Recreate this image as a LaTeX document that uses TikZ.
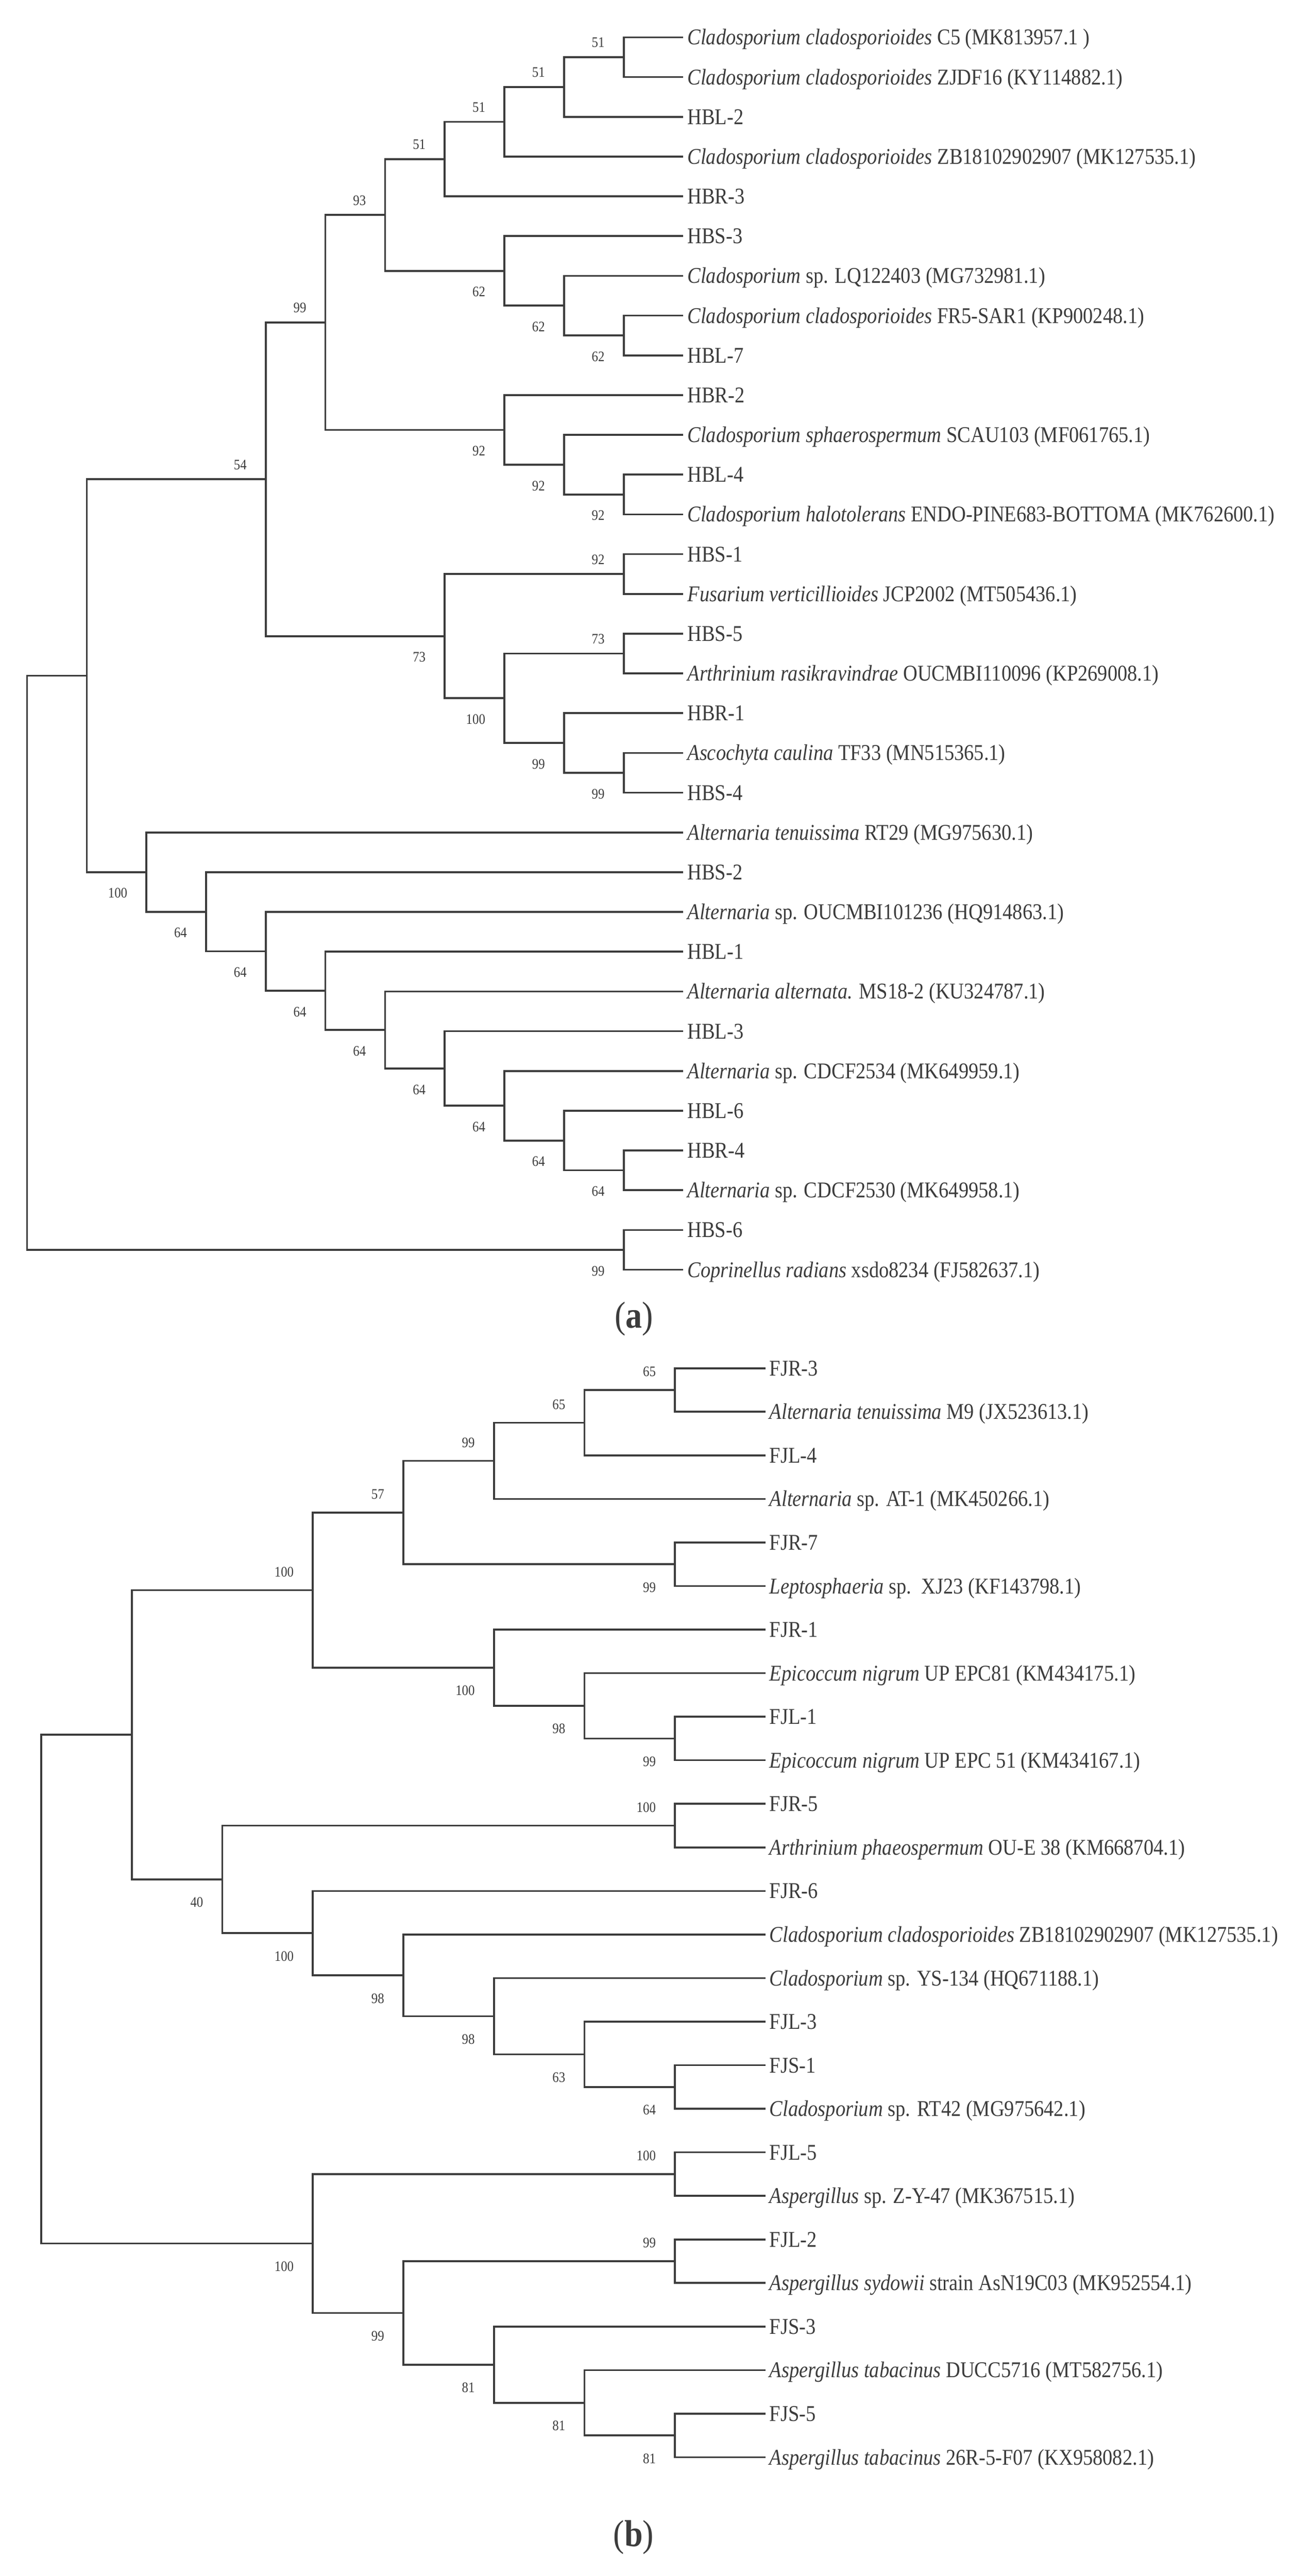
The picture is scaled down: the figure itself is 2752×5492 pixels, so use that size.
\documentclass[tikz,border=0pt]{standalone}
\usepackage{fontspec}
\setmainfont{Liberation Serif}[FakeStretch=0.88]
\definecolor{treegray}{HTML}{3C3C3C}

\begin{document}
\begin{tikzpicture}[x=0.25pt, y=-0.25pt,
    branch/.style={draw=treegray, line width=1pt},
    leaf/.style={anchor=west, inner xsep=2pt, inner ysep=0pt, text height=8pt, text depth=0pt, text=treegray, font=\fontsize{12}{14}\selectfont},
    bs/.style={anchor=east, inner sep=0pt, xshift=-10pt, text=treegray, font=\fontsize{7.75}{9}\selectfont},
    caption/.style={text=treegray, font=\fontsize{20}{24}\selectfont}]
    \useasboundingbox (0,0) rectangle (2752,5492);

    % Tree (a)
    \begin{scope}[x=-31.8pt, y=-21.19pt, shift={(364.25pt,1.315pt)},
        bsup/.style={bs, yshift=7.75pt}, bsdn/.style={bs, yshift=-11.25pt}]
    % Leaves
    \node[leaf] (a-1) at (0,1) {\textit{Cladosporium cladosporioides} C5 (MK813957.1 )};
    \node[leaf] (a-2) at (0,2) {\textit{Cladosporium cladosporioides} ZJDF16 (KY114882.1)};
    \node[leaf] (a-3) at (0,3) {HBL-2};
    \node[leaf] (a-4) at (0,4) {\textit{Cladosporium cladosporioides} ZB18102902907 (MK127535.1)};
    \node[leaf] (a-5) at (0,5) {HBR-3};
    \node[leaf] (a-6) at (0,6) {HBS-3};
    \node[leaf] (a-7) at (0,7) {\textit{Cladosporium} sp. LQ122403 (MG732981.1)};
    \node[leaf] (a-8) at (0,8) {\textit{Cladosporium cladosporioides} FR5-SAR1 (KP900248.1)};
    \node[leaf] (a-9) at (0,9) {HBL-7};
    \node[leaf] (a-10) at (0,10) {HBR-2};
    \node[leaf] (a-11) at (0,11) {\textit{Cladosporium sphaerospermum} SCAU103 (MF061765.1)};
    \node[leaf] (a-12) at (0,12) {HBL-4};
    \node[leaf] (a-13) at (0,13) {\textit{Cladosporium halotolerans} ENDO-PINE683-BOTTOMA (MK762600.1)};
    \node[leaf] (a-14) at (0,14) {HBS-1};
    \node[leaf] (a-15) at (0,15) {\textit{Fusarium verticillioides} JCP2002 (MT505436.1)};
    \node[leaf] (a-16) at (0,16) {HBS-5};
    \node[leaf] (a-17) at (0,17) {\textit{Arthrinium rasikravindrae} OUCMBI110096 (KP269008.1)};
    \node[leaf] (a-18) at (0,18) {HBR-1};
    \node[leaf] (a-19) at (0,19) {\textit{Ascochyta caulina} TF33 (MN515365.1)};
    \node[leaf] (a-20) at (0,20) {HBS-4};
    \node[leaf] (a-21) at (0,21) {\textit{Alternaria tenuissima} RT29 (MG975630.1)};
    \node[leaf] (a-22) at (0,22) {HBS-2};
    \node[leaf] (a-23) at (0,23) {\textit{Alternaria} sp. OUCMBI101236 (HQ914863.1)};
    \node[leaf] (a-24) at (0,24) {HBL-1};
    \node[leaf] (a-25) at (0,25) {\textit{Alternaria alternata.} MS18-2 (KU324787.1)};
    \node[leaf] (a-26) at (0,26) {HBL-3};
    \node[leaf] (a-27) at (0,27) {\textit{Alternaria} sp. CDCF2534 (MK649959.1)};
    \node[leaf] (a-28) at (0,28) {HBL-6};
    \node[leaf] (a-29) at (0,29) {HBR-4};
    \node[leaf] (a-30) at (0,30) {\textit{Alternaria} sp. CDCF2530 (MK649958.1)};
    \node[leaf] (a-31) at (0,31) {HBS-6};
    \node[leaf] (a-32) at (0,32) {\textit{Coprinellus radians} xsdo8234 (FJ582637.1)};

    % Inner nodes
    \coordinate (a-n1) at (1,1.5);
    \coordinate (a-n2) at (2,2.25);
    \coordinate (a-n3) at (3,3.125);
    \coordinate (a-n4) at (4,4.0625);
    \coordinate (a-n5) at (1,8.5);
    \coordinate (a-n6) at (2,7.75);
    \coordinate (a-n7) at (3,6.875);
    \coordinate (a-n8) at (5,5.46875);
    \coordinate (a-n9) at (1,12.5);
    \coordinate (a-n10) at (2,11.75);
    \coordinate (a-n11) at (3,10.875);
    \coordinate (a-n12) at (6,8.171875);
    \coordinate (a-n13) at (1,14.5);
    \coordinate (a-n14) at (1,16.5);
    \coordinate (a-n15) at (1,19.5);
    \coordinate (a-n16) at (2,18.75);
    \coordinate (a-n17) at (3,17.625);
    \coordinate (a-n18) at (4,16.0625);
    \coordinate (a-n19) at (7,12.1171875);
    \coordinate (a-n20) at (1,29.5);
    \coordinate (a-n21) at (2,28.75);
    \coordinate (a-n22) at (3,27.875);
    \coordinate (a-n23) at (4,26.9375);
    \coordinate (a-n24) at (5,25.96875);
    \coordinate (a-n25) at (6,24.984375);
    \coordinate (a-n26) at (7,23.9921875);
    \coordinate (a-n27) at (8,22.99609375);
    \coordinate (a-n28) at (9,21.998046875);
    \coordinate (a-n29) at (10,17.0576171875);
    \coordinate (a-n30) at (1,31.5);
    \coordinate (a-root) at (11,24.27880859375);

    % Branches
    \draw[branch] (a-1.west) -| (a-n1) |- (a-2.west);
    \draw[branch] (a-n1) -| (a-n2) |- (a-3.west);
    \draw[branch] (a-n2) -| (a-n3) |- (a-4.west);
    \draw[branch] (a-n3) -| (a-n4) |- (a-5.west);
    \draw[branch] (a-8.west) -| (a-n5) |- (a-9.west);
    \draw[branch] (a-7.west) -| (a-n6) |- (a-n5);
    \draw[branch] (a-6.west) -| (a-n7) |- (a-n6);
    \draw[branch] (a-n4) -| (a-n8) |- (a-n7);
    \draw[branch] (a-12.west) -| (a-n9) |- (a-13.west);
    \draw[branch] (a-11.west) -| (a-n10) |- (a-n9);
    \draw[branch] (a-10.west) -| (a-n11) |- (a-n10);
    \draw[branch] (a-n8) -| (a-n12) |- (a-n11);
    \draw[branch] (a-14.west) -| (a-n13) |- (a-15.west);
    \draw[branch] (a-16.west) -| (a-n14) |- (a-17.west);
    \draw[branch] (a-19.west) -| (a-n15) |- (a-20.west);
    \draw[branch] (a-18.west) -| (a-n16) |- (a-n15);
    \draw[branch] (a-n14) -| (a-n17) |- (a-n16);
    \draw[branch] (a-n13) -| (a-n18) |- (a-n17);
    \draw[branch] (a-n12) -| (a-n19) |- (a-n18);
    \draw[branch] (a-29.west) -| (a-n20) |- (a-30.west);
    \draw[branch] (a-28.west) -| (a-n21) |- (a-n20);
    \draw[branch] (a-27.west) -| (a-n22) |- (a-n21);
    \draw[branch] (a-26.west) -| (a-n23) |- (a-n22);
    \draw[branch] (a-25.west) -| (a-n24) |- (a-n23);
    \draw[branch] (a-24.west) -| (a-n25) |- (a-n24);
    \draw[branch] (a-23.west) -| (a-n26) |- (a-n25);
    \draw[branch] (a-22.west) -| (a-n27) |- (a-n26);
    \draw[branch] (a-21.west) -| (a-n28) |- (a-n27);
    \draw[branch] (a-n19) -| (a-n29) |- (a-n28);
    \draw[branch] (a-31.west) -| (a-n30) |- (a-32.west);
    \draw[branch] (a-n29) -| (a-root) |- (a-n30);

    % Bootstrap values
    \node[bsup] (a-bs1) at (a-n1) {51};
    \node[bsup] (a-bs2) at (a-n2) {51};
    \node[bsup] (a-bs3) at (a-n3) {51};
    \node[bsup] (a-bs4) at (a-n4) {51};
    \node[bsdn] (a-bs5) at (a-n5) {62};
    \node[bsdn] (a-bs6) at (a-n6) {62};
    \node[bsdn] (a-bs7) at (a-n7) {62};
    \node[bsup] (a-bs8) at (a-n8) {93};
    \node[bsdn] (a-bs9) at (a-n9) {92};
    \node[bsdn] (a-bs10) at (a-n10) {92};
    \node[bsdn] (a-bs11) at (a-n11) {92};
    \node[bsup] (a-bs12) at (a-n12) {99};
    \node[bsup] (a-bs13) at (a-n13) {92};
    \node[bsup] (a-bs14) at (a-n14) {73};
    \node[bsdn] (a-bs15) at (a-n15) {99};
    \node[bsdn] (a-bs16) at (a-n16) {99};
    \node[bsdn] (a-bs17) at (a-n17) {100};
    \node[bsdn] (a-bs18) at (a-n18) {73};
    \node[bsup] (a-bs19) at (a-n19) {54};
    \node[bsdn] (a-bs20) at (a-n20) {64};
    \node[bsdn] (a-bs21) at (a-n21) {64};
    \node[bsdn] (a-bs22) at (a-n22) {64};
    \node[bsdn] (a-bs23) at (a-n23) {64};
    \node[bsdn] (a-bs24) at (a-n24) {64};
    \node[bsdn] (a-bs25) at (a-n25) {64};
    \node[bsdn] (a-bs26) at (a-n26) {64};
    \node[bsdn] (a-bs27) at (a-n27) {64};
    \node[bsdn] (a-bs28) at (a-n28) {100};
    \node[bsdn] (a-bs30) at (a-n30) {99};
    \end{scope}

    \node[caption] (cap-a) at (1352,2812) {(\textbf{a})};

    % Tree (b)
    \begin{scope}[x=-48.25pt, y=-23.2175pt, shift={(408pt,-706.0325pt)},
        bsup/.style={bs, yshift=9.75pt}, bsdn/.style={bs, yshift=-12.25pt}]
    % Leaves
    \node[leaf] (b-1) at (0,1) {FJR-3};
    \node[leaf] (b-2) at (0,2) {\textit{Alternaria tenuissima} M9 (JX523613.1)};
    \node[leaf] (b-3) at (0,3) {FJL-4};
    \node[leaf] (b-4) at (0,4) {\textit{Alternaria} sp. AT-1 (MK450266.1)};
    \node[leaf] (b-5) at (0,5) {FJR-7};
    \node[leaf] (b-6) at (0,6) {\textit{Leptosphaeria} sp.\ \ XJ23 (KF143798.1)};
    \node[leaf] (b-7) at (0,7) {FJR-1};
    \node[leaf] (b-8) at (0,8) {\textit{Epicoccum nigrum} UP EPC81 (KM434175.1)};
    \node[leaf] (b-9) at (0,9) {FJL-1};
    \node[leaf] (b-10) at (0,10) {\textit{Epicoccum nigrum} UP EPC 51 (KM434167.1)};
    \node[leaf] (b-11) at (0,11) {FJR-5};
    \node[leaf] (b-12) at (0,12) {\textit{Arthrinium phaeospermum} OU-E 38 (KM668704.1)};
    \node[leaf] (b-13) at (0,13) {FJR-6};
    \node[leaf] (b-14) at (0,14) {\textit{Cladosporium cladosporioides} ZB18102902907 (MK127535.1)};
    \node[leaf] (b-15) at (0,15) {\textit{Cladosporium} sp. YS-134 (HQ671188.1)};
    \node[leaf] (b-16) at (0,16) {FJL-3};
    \node[leaf] (b-17) at (0,17) {FJS-1};
    \node[leaf] (b-18) at (0,18) {\textit{Cladosporium} sp. RT42 (MG975642.1)};
    \node[leaf] (b-19) at (0,19) {FJL-5};
    \node[leaf] (b-20) at (0,20) {\textit{Aspergillus} sp. Z-Y-47 (MK367515.1)};
    \node[leaf] (b-21) at (0,21) {FJL-2};
    \node[leaf] (b-22) at (0,22) {\textit{Aspergillus sydowii} strain AsN19C03 (MK952554.1)};
    \node[leaf] (b-23) at (0,23) {FJS-3};
    \node[leaf] (b-24) at (0,24) {\textit{Aspergillus tabacinus} DUCC5716 (MT582756.1)};
    \node[leaf] (b-25) at (0,25) {FJS-5};
    \node[leaf] (b-26) at (0,26) {\textit{Aspergillus tabacinus} 26R-5-F07 (KX958082.1)};

    % Inner nodes
    \coordinate (b-n1) at (1,1.5);
    \coordinate (b-n2) at (2,2.25);
    \coordinate (b-n3) at (3,3.125);
    \coordinate (b-n4) at (1,5.5);
    \coordinate (b-n5) at (4,4.3125);
    \coordinate (b-n6) at (1,9.5);
    \coordinate (b-n7) at (2,8.75);
    \coordinate (b-n8) at (3,7.875);
    \coordinate (b-n9) at (5,6.09375);
    \coordinate (b-n10) at (1,11.5);
    \coordinate (b-n11) at (1,17.5);
    \coordinate (b-n12) at (2,16.75);
    \coordinate (b-n13) at (3,15.875);
    \coordinate (b-n14) at (4,14.9375);
    \coordinate (b-n15) at (5,13.96875);
    \coordinate (b-n16) at (6,12.734375);
    \coordinate (b-n17) at (7,9.4140625);
    \coordinate (b-n18) at (1,19.5);
    \coordinate (b-n19) at (1,21.5);
    \coordinate (b-n20) at (1,25.5);
    \coordinate (b-n21) at (2,24.75);
    \coordinate (b-n22) at (3,23.875);
    \coordinate (b-n23) at (4,22.6875);
    \coordinate (b-n24) at (5,21.09375);
    \coordinate (b-root) at (8,15.25390625);

    % Branches
    \draw[branch] (b-1.west) -| (b-n1) |- (b-2.west);
    \draw[branch] (b-n1) -| (b-n2) |- (b-3.west);
    \draw[branch] (b-n2) -| (b-n3) |- (b-4.west);
    \draw[branch] (b-5.west) -| (b-n4) |- (b-6.west);
    \draw[branch] (b-n3) -| (b-n5) |- (b-n4);
    \draw[branch] (b-9.west) -| (b-n6) |- (b-10.west);
    \draw[branch] (b-8.west) -| (b-n7) |- (b-n6);
    \draw[branch] (b-7.west) -| (b-n8) |- (b-n7);
    \draw[branch] (b-n5) -| (b-n9) |- (b-n8);
    \draw[branch] (b-11.west) -| (b-n10) |- (b-12.west);
    \draw[branch] (b-17.west) -| (b-n11) |- (b-18.west);
    \draw[branch] (b-16.west) -| (b-n12) |- (b-n11);
    \draw[branch] (b-15.west) -| (b-n13) |- (b-n12);
    \draw[branch] (b-14.west) -| (b-n14) |- (b-n13);
    \draw[branch] (b-13.west) -| (b-n15) |- (b-n14);
    \draw[branch] (b-n10) -| (b-n16) |- (b-n15);
    \draw[branch] (b-n9) -| (b-n17) |- (b-n16);
    \draw[branch] (b-19.west) -| (b-n18) |- (b-20.west);
    \draw[branch] (b-21.west) -| (b-n19) |- (b-22.west);
    \draw[branch] (b-25.west) -| (b-n20) |- (b-26.west);
    \draw[branch] (b-24.west) -| (b-n21) |- (b-n20);
    \draw[branch] (b-23.west) -| (b-n22) |- (b-n21);
    \draw[branch] (b-n19) -| (b-n23) |- (b-n22);
    \draw[branch] (b-n18) -| (b-n24) |- (b-n23);
    \draw[branch] (b-n17) -| (b-root) |- (b-n24);

    % Bootstrap values
    \node[bsup] (b-bs1) at (b-n1) {65};
    \node[bsup] (b-bs2) at (b-n2) {65};
    \node[bsup] (b-bs3) at (b-n3) {99};
    \node[bsdn] (b-bs4) at (b-n4) {99};
    \node[bsup] (b-bs5) at (b-n5) {57};
    \node[bsdn] (b-bs6) at (b-n6) {99};
    \node[bsdn] (b-bs7) at (b-n7) {98};
    \node[bsdn] (b-bs8) at (b-n8) {100};
    \node[bsup] (b-bs9) at (b-n9) {100};
    \node[bsup] (b-bs10) at (b-n10) {100};
    \node[bsdn] (b-bs11) at (b-n11) {64};
    \node[bsdn] (b-bs12) at (b-n12) {63};
    \node[bsdn] (b-bs13) at (b-n13) {98};
    \node[bsdn] (b-bs14) at (b-n14) {98};
    \node[bsdn] (b-bs15) at (b-n15) {100};
    \node[bsdn] (b-bs16) at (b-n16) {40};
    \node[bsup] (b-bs18) at (b-n18) {100};
    \node[bsup] (b-bs19) at (b-n19) {99};
    \node[bsdn] (b-bs20) at (b-n20) {81};
    \node[bsdn] (b-bs21) at (b-n21) {81};
    \node[bsdn] (b-bs22) at (b-n22) {81};
    \node[bsdn] (b-bs23) at (b-n23) {99};
    \node[bsdn] (b-bs24) at (b-n24) {100};
    \end{scope}

    \node[caption] (cap-b) at (1351,5410) {(\textbf{b})};

\end{tikzpicture}
\end{document}
